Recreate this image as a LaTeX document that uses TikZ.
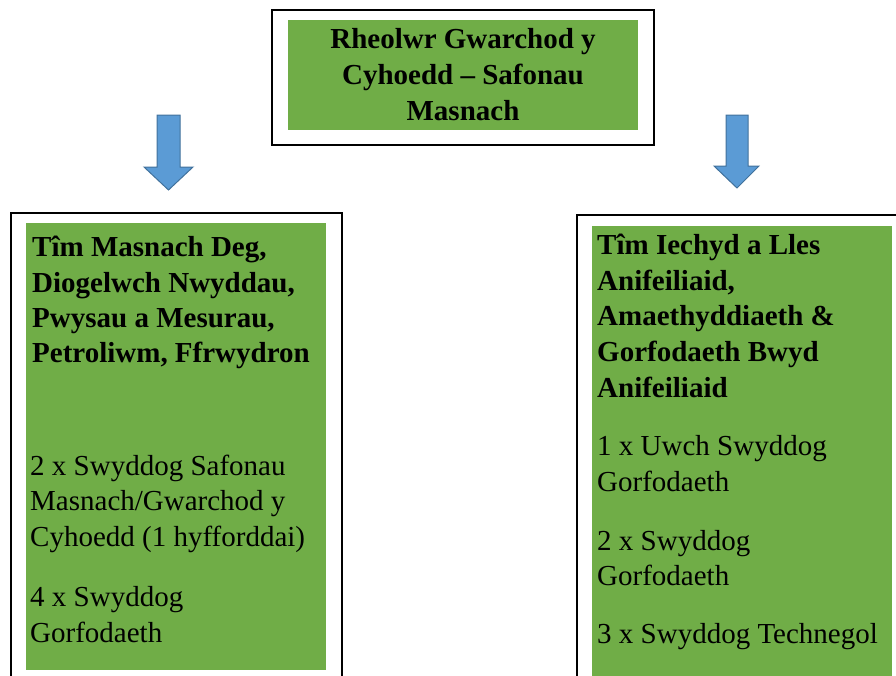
\documentclass[tikz,border=0pt]{standalone}
\usepackage{fontspec}
\setmainfont{Liberation Serif}
\definecolor{boxgreen}{HTML}{70AD47}
\definecolor{arrowblue}{HTML}{5B9BD5}
\definecolor{arrowedge}{HTML}{41719C}
\begin{document}
\begin{tikzpicture}[x=1pt,y=-1pt,
  outerbox/.style={draw=black,line width=1.6pt,fill=white},
  greenbox/.style={fill=boxgreen,draw=none},
  blockarrow/.style={fill=arrowblue,draw=arrowedge,line width=1pt,line join=miter},
  ln/.style={inner sep=0pt,anchor=base west,font=\fontsize{29}{35}\selectfont},
  lnb/.style={ln,font=\fontsize{29}{35}\selectfont\bfseries},
  lnc/.style={inner sep=0pt,anchor=base,font=\fontsize{29}{35}\selectfont\bfseries}]
\useasboundingbox (0,0) rectangle (896,675);
\clip (0,0) rectangle (896,675);
% top box
\draw[outerbox] (272,10) rectangle (654,145);
\fill[greenbox] (288,20) rectangle (638,130);
\node[lnc] (t1) at (463,48) {Rheolwr Gwarchod y};
\node[lnc] (t2) at (463,84) {Cyhoedd – Safonau};
\node[lnc] (t3) at (463,120) {Masnach};
% arrows
\draw[blockarrow] (157,115) -- (180,115) -- (180,167) -- (193,167) -- (168.5,190) -- (144,167) -- (157,167) -- cycle;
\draw[blockarrow] (726,115) -- (748,115) -- (748,166) -- (759,166) -- (737,188) -- (714,166) -- (726,166) -- cycle;
% left box
\draw[outerbox] (11,213) rectangle (342,720);
\fill[greenbox] (26,223) rectangle (326,670);
\node[lnb] (l1) at (32,256.5) {Tîm Masnach Deg,};
\node[lnb] (l2) at (32,292) {Diogelwch Nwyddau,};
\node[lnb] (l3) at (32,327) {Pwysau a Mesurau,};
\node[lnb] (l4) at (32,362) {Petroliwm, Ffrwydron};
\node[ln] (l5) at (30,475) {2 x Swyddog Safonau};
\node[ln] (l6) at (30,510.5) {Masnach/Gwarchod y};
\node[ln] (l7) at (30,546) {Cyhoedd (1 hyfforddai)};
\node[ln] (l8) at (30,606.5) {4 x Swyddog};
\node[ln] (l9) at (30,642.5) {Gorfodaeth};
% right box
\draw[outerbox] (577,215) rectangle (920,720);
\fill[greenbox] (592,226) rectangle (892,690);
\node[lnb] (r1) at (597,254.5) {Tîm Iechyd a Lles};
\node[lnb] (r2) at (597,290) {Anifeiliaid,};
\node[lnb] (r3) at (597,325.5) {Amaethyddiaeth \&};
\node[lnb] (r4) at (597,361.5) {Gorfodaeth Bwyd};
\node[lnb] (r5) at (597,397.5) {Anifeiliaid};
\node[ln] (r6) at (597,455) {1 x Uwch Swyddog};
\node[ln] (r7) at (597,491.5) {Gorfodaeth};
\node[ln] (r8) at (597,550) {2 x Swyddog};
\node[ln] (r9) at (597,585.5) {Gorfodaeth};
\node[ln] (r10) at (597,643) {3 x Swyddog Technegol};
\end{tikzpicture}
\end{document}
